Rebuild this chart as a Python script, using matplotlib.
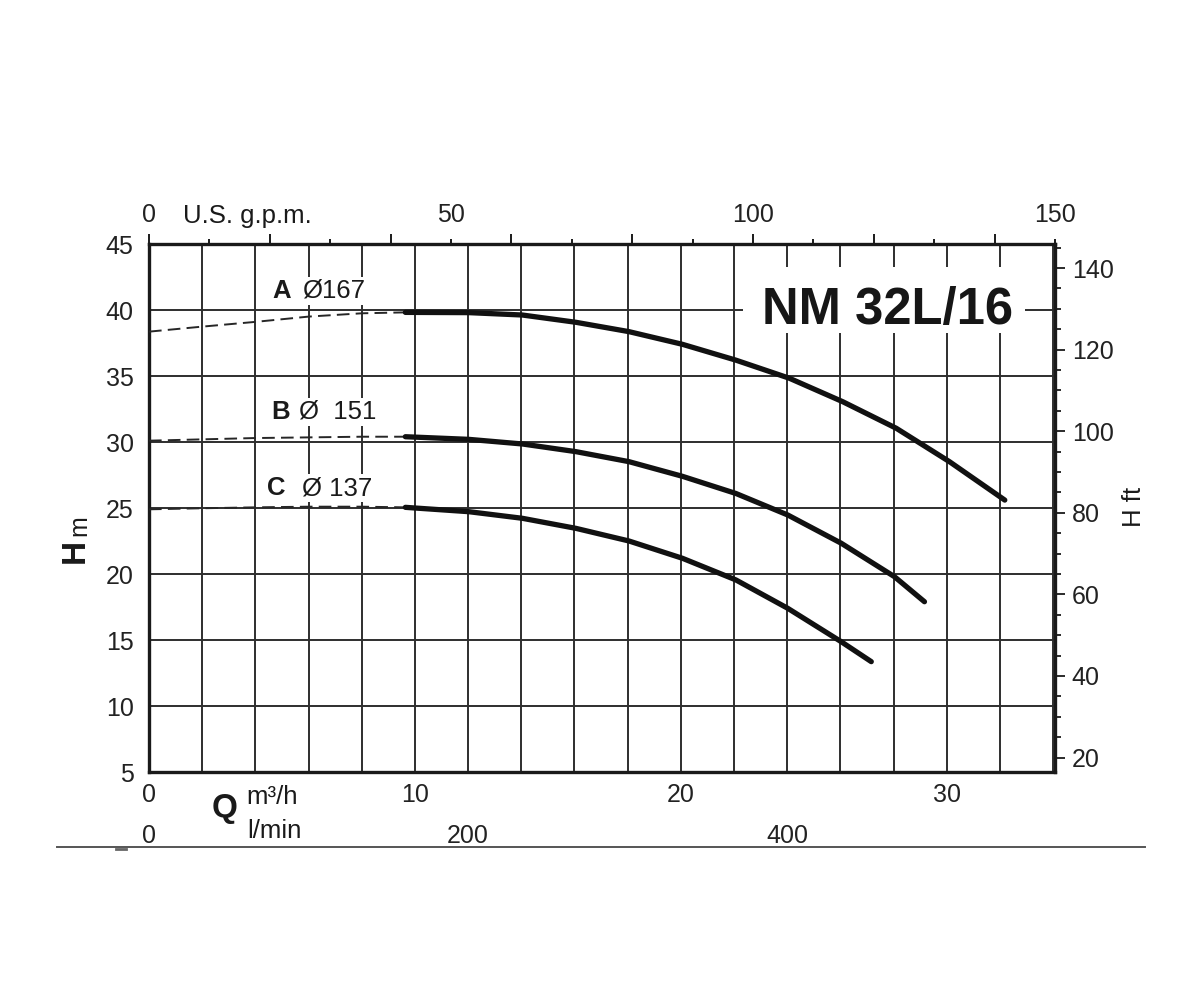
import numpy as np
import matplotlib
matplotlib.use("Agg")
import matplotlib.pyplot as plt
from matplotlib.ticker import MultipleLocator, FixedLocator, NullFormatter
from matplotlib.patches import Rectangle
from matplotlib.lines import Line2D

plt.rcParams['font.family'] = ['Liberation Sans', 'DejaVu Sans']

# ---------------- data (Q in m3/h, H in m) ----------------
q_A_dash = [0, 2, 4, 6, 8, 9.64]
h_A_dash = [38.36, 38.74, 39.1, 39.5, 39.75, 39.82]
q_A = [9.64, 12.03, 14.04, 16.05, 18.05, 20.06, 22.07, 24.08, 26.09, 28.1, 30.1, 32.18]
h_A = [39.82, 39.8, 39.62, 39.07, 38.36, 37.4, 36.2, 34.83, 33.05, 31.04, 28.51, 25.6]

q_B_dash = [0, 2, 4, 6, 8, 9.64]
h_B_dash = [30.1, 30.2, 30.3, 30.35, 30.4, 30.4]
q_B = [9.64, 12.03, 14.04, 16.05, 18.05, 20.06, 22.07, 24.02, 26.03, 28.03, 29.16]
h_B = [30.4, 30.2, 29.85, 29.27, 28.51, 27.4, 26.1, 24.47, 22.33, 19.8, 17.9]

q_C_dash = [0, 2, 4, 6, 8, 9.64]
h_C_dash = [24.9, 24.98, 25.05, 25.1, 25.1, 25.05]
q_C = [9.64, 12.03, 14.04, 16.05, 18.05, 20.06, 22.07, 24.02, 26.03, 27.16]
h_C = [25.05, 24.72, 24.22, 23.46, 22.5, 21.19, 19.55, 17.4, 14.87, 13.36]

h_ticks = [5, 10, 15, 20, 25, 30, 35, 40, 45]
q_ticks = [0, 10, 20, 30]
lmin_ticks = [0, 200, 400]
gpm_ticks = [0, 50, 100, 150]
ft_ticks = [20, 40, 60, 80, 100, 120, 140]

GPM_PER_M3H = 4.4029
LMIN_PER_M3H = 16.667
Q_MAX = 150 / GPM_PER_M3H
FT_LIM = (16.45, 145.9)

W, H = 1200, 1000
def fx(px):
    return px / W
def fy(py):
    return 1 - py / H

TICK_FS = 18
LBL_FS = 18.5
DARK = '#1a1a1a'
GRID = '#2e2e2e'
TXT = '#222222'

fig = plt.figure(figsize=(12, 10), dpi=100)
fig.patch.set_facecolor('white')
ax = fig.add_axes([fx(149), fy(772), fx(1055) - fx(149), fy(244) - fy(772)])
ax.set_xlim(0, Q_MAX)
ax.set_ylim(5, 45)

for s in ax.spines.values():
    s.set_linewidth(2.4)
    s.set_color(DARK)

ax.xaxis.set_major_locator(FixedLocator(q_ticks))
ax.xaxis.set_minor_locator(MultipleLocator(2))
ax.yaxis.set_major_locator(FixedLocator(h_ticks))
ax.tick_params(axis='x', which='both', length=0, labelsize=TICK_FS, pad=8, colors=TXT)
ax.tick_params(axis='y', which='both', length=0, labelsize=TICK_FS, pad=11, colors=TXT)
ax.set_axisbelow(True)
ax.grid(axis='x', which='both', color=GRID, linewidth=1.4)
ax.grid(axis='y', which='major', color=GRID, linewidth=1.4)

# l/min row
sec_l = ax.secondary_xaxis(-0.077, functions=(lambda q: np.asarray(q) * LMIN_PER_M3H,
                                              lambda l: np.asarray(l) / LMIN_PER_M3H))
sec_l.set_xticks(lmin_ticks)
sec_l.tick_params(length=0, labelsize=TICK_FS, pad=8, colors=TXT)
sec_l.spines['bottom'].set_visible(False)

# top gpm axis: ticks every 10, long at multiples of 20
sec_g = ax.secondary_xaxis('top', functions=(lambda q: np.asarray(q) * GPM_PER_M3H,
                                             lambda g: np.asarray(g) / GPM_PER_M3H))
sec_g.xaxis.set_major_locator(MultipleLocator(20))
sec_g.xaxis.set_minor_locator(MultipleLocator(10))
sec_g.xaxis.set_major_formatter(NullFormatter())
sec_g.tick_params(which='major', direction='out', length=7, width=1.4, color=DARK)
sec_g.tick_params(which='minor', direction='out', length=3.5, width=1.4, color=DARK)
sec_g.spines['top'].set_visible(False)

sec_g2 = ax.secondary_xaxis('top', functions=(lambda q: np.asarray(q) * GPM_PER_M3H,
                                              lambda g: np.asarray(g) / GPM_PER_M3H))
sec_g2.set_xticks(gpm_ticks)
sec_g2.tick_params(length=0, labelsize=TICK_FS, pad=12, colors=TXT)
sec_g2.spines['top'].set_visible(False)

# right ft axis
axr = ax.twinx()
axr.set_ylim(*FT_LIM)
axr.yaxis.set_major_locator(FixedLocator(ft_ticks))
axr.yaxis.set_minor_locator(MultipleLocator(5))
axr.tick_params(which='major', direction='out', length=7, width=1.3, color=DARK,
                labelsize=TICK_FS, pad=5, labelcolor=TXT)
axr.tick_params(which='minor', direction='out', length=4.5, width=1.3, color=DARK)
for s in axr.spines.values():
    s.set_visible(False)

# ---------------- curves ----------------
dash_kw = dict(color='#262626', linewidth=1.4, dashes=(6.5, 3.2), zorder=3)
solid_kw = dict(color='#111111', linewidth=3.8, solid_capstyle='round',
                solid_joinstyle='round', zorder=4)
ax.plot(q_A_dash, h_A_dash, **dash_kw)
ax.plot(q_B_dash, h_B_dash, **dash_kw)
ax.plot(q_C_dash, h_C_dash, **dash_kw)
ax.plot(q_A, h_A, **solid_kw)
ax.plot(q_B, h_B, **solid_kw)
ax.plot(q_C, h_C, **solid_kw)

# white box behind title
box = Rectangle((fx(743), fy(333)), fx(1025) - fx(743), fy(267) - fy(333),
                transform=fig.transFigure, facecolor='white', edgecolor='none', zorder=2)
ax.add_patch(box)
ax.text(fx(888), fy(324), 'NM 32L/16', transform=fig.transFigure, ha='center',
        va='baseline', fontsize=36.5, fontweight='bold', color='#161616', zorder=5)

# curve labels
wb = dict(facecolor='white', edgecolor='none', pad=1.5)
def curve_label(letter, lx, rest, rx, py):
    ax.text(fx(lx), fy(py), letter, transform=fig.transFigure, ha='left', va='center',
            fontsize=LBL_FS, fontweight='bold', color='#1a1a1a', bbox=wb, zorder=5)
    ax.text(fx(rx), fy(py), rest, transform=fig.transFigure, ha='left', va='center',
            fontsize=LBL_FS, color='#1a1a1a', bbox=wb, zorder=5)

curve_label('A', 272, 'Ø167', 302, 291)
curve_label('B', 271, 'Ø  151', 299, 412)
curve_label('C', 267, 'Ø 137', 302, 488)

# axis titles
fig.text(fx(75), fy(551), 'H', rotation=90, ha='center', va='center',
         fontsize=24, fontweight='bold', color='#1a1a1a')
fig.text(fx(79), fy(526), 'm', rotation=90, ha='center', va='center',
         fontsize=18, color='#1a1a1a')
fig.text(fx(1134), fy(507), 'H ft', rotation=90, ha='center', va='center',
         fontsize=LBL_FS, color='#1a1a1a')
fig.text(fx(225), fy(809), 'Q', ha='center', va='center',
         fontsize=24, fontweight='bold', color='#1a1a1a')
fig.text(fx(246), fy(797), 'm³/h', ha='left', va='center', fontsize=LBL_FS, color='#1a1a1a')
fig.text(fx(247), fy(831), 'l/min', ha='left', va='center', fontsize=LBL_FS, color='#1a1a1a')
fig.text(fx(183), fy(216), 'U.S. g.p.m.', ha='left', va='center', fontsize=LBL_FS, color='#1a1a1a')

# bottom rule
fig.add_artist(Line2D([fx(57), fx(1145)], [fy(847), fy(847)], color='#555555', linewidth=1.4))
fig.add_artist(Line2D([fx(116), fx(126)], [fy(849), fy(849)], color='#666666', linewidth=2))

fig.savefig('out.png', dpi=100, facecolor='white')
